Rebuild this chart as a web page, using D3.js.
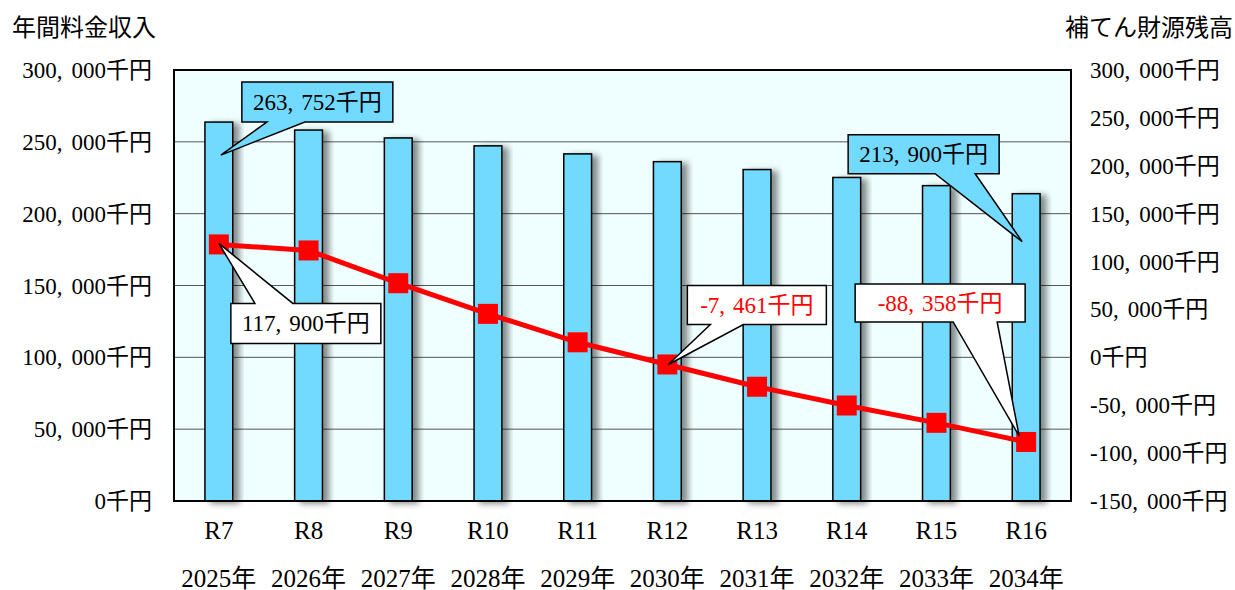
<!DOCTYPE html>
<html>
<head>
<meta charset="utf-8">
<script src="https://cdn.jsdelivr.net/npm/d3@7"></script>
<style>
  body { margin: 0; background: #fff; }
  svg { display: block; }
  text { font-family: "Liberation Serif", "Noto Sans CJK JP", serif; fill: #000; }
</style>
</head>
<body>
<svg id="chart"></svg>
<script>
// data
const reiwa = ["R7", "R8", "R9", "R10", "R11", "R12", "R13", "R14", "R15", "R16"];
const years = ["2025年", "2026年", "2027年", "2028年", "2029年", "2030年", "2031年", "2032年", "2033年", "2034年"];
const revenue = [263752, 258200, 252700, 247200, 241600, 236200, 230700, 225200, 219500, 213900];
const reserve = [117900, 111600, 77400, 45400, 15700, -7461, -30700, -50300, -68400, -88358];
const leftTicks = [0, 50000, 100000, 150000, 200000, 250000, 300000];
const rightTicks = [-150000, -100000, -50000, 0, 50000, 100000, 150000, 200000, 250000, 300000];
const leftTitle = "年間料金収入";
const rightTitle = "補てん財源残高";

// callouts: which series / index, box placement relative to the point
const callouts = [
  { series: "bar", i: 0, bx: 23, by: -40, w: 151, h: 40, side: "bottom", a: 25, b: 63, tx: 2, ty: 33, color: "#000", fill: "#73daff" },
  { series: "bar", i: 9, bx: -178, by: -59, w: 151, h: 39, side: "bottom", a: 87, b: 127, tx: -4, ty: 48, color: "#000", fill: "#73daff" },
  { series: "line", i: 0, bx: 12, by: 59, w: 150, h: 40, side: "top", a: 24, b: 62, tx: 0, ty: -1, color: "#000", fill: "#fff" },
  { series: "line", i: 5, bx: 20, by: -79, w: 139, h: 39, side: "bottom", a: 23, b: 56, tx: 1, ty: 0, color: "#ff0000", fill: "#fff" },
  { series: "line", i: 9, bx: -171, by: -158, w: 170, h: 38, side: "bottom", a: 98, b: 142, tx: -7, ty: -6, color: "#ff0000", fill: "#fff" }
];

const W = 1235, H = 590;
const margin = { top: 70, right: 164, bottom: 89, left: 174 };
const width = W - margin.left - margin.right;
const height = H - margin.top - margin.bottom;

const svg = d3.select("#chart").attr("width", W).attr("height", H);

const fmt = d3.formatLocale({ decimal: ".", thousands: ",", grouping: [3], currency: ["", ""], minus: "-" }).format(",");
const label = v => fmt(v) + "千円";

// draw "300,000千円" with a gap after each comma, like the original font
function numText(sel, s, gap) {
  const parts = s.split(",");
  sel.text(null);
  parts.forEach((p, k) => {
    sel.append("tspan")
      .attr("dx", k ? gap : null)
      .text(p + (k < parts.length - 1 ? "," : ""));
  });
}

// shadow for bars
const defs = svg.append("defs");
const f = defs.append("filter").attr("id", "shadow")
  .attr("x", "-20%").attr("y", "-10%").attr("width", "160%").attr("height", "130%");
f.append("feDropShadow").attr("dx", 6).attr("dy", 2).attr("stdDeviation", 3)
  .attr("flood-color", "#000").attr("flood-opacity", 0.45);

// scales
const x = d3.scaleBand().domain(reiwa).range([margin.left, margin.left + width]).padding(0);
const yL = d3.scaleLinear().domain([0, 300000]).range([margin.top + height, margin.top]);
const yR = d3.scaleLinear().domain([-150000, 300000]).range([margin.top + height, margin.top]);
const cx = d => x(d) + x.bandwidth() / 2;
const barW = x.bandwidth() * 0.31;

// plot background
svg.append("rect")
  .attr("x", margin.left).attr("y", margin.top)
  .attr("width", width).attr("height", height)
  .attr("fill", "#effefe");

// grid lines
svg.append("g")
  .selectAll("line")
  .data(leftTicks.slice(1, -1))
  .join("line")
  .attr("x1", margin.left).attr("x2", margin.left + width)
  .attr("y1", d => yL(d)).attr("y2", d => yL(d))
  .attr("stroke", "#555").attr("stroke-width", 1);

// bars
svg.append("g")
  .selectAll("rect")
  .data(revenue)
  .join("rect")
  .attr("x", (d, i) => cx(reiwa[i]) - barW / 2)
  .attr("y", d => yL(d))
  .attr("width", barW)
  .attr("height", d => yL(0) - yL(d))
  .attr("fill", "#73daff")
  .attr("stroke", "#000")
  .attr("stroke-width", 1.5)
  .attr("filter", "url(#shadow)");

// plot border
svg.append("rect")
  .attr("x", margin.left).attr("y", margin.top)
  .attr("width", width).attr("height", height)
  .attr("fill", "none").attr("stroke", "#000").attr("stroke-width", 2);

// line
const line = d3.line()
  .x((d, i) => cx(reiwa[i]))
  .y(d => yR(d));
svg.append("path")
  .datum(reserve)
  .attr("fill", "none")
  .attr("stroke", "#ff0000")
  .attr("stroke-width", 5)
  .attr("stroke-linejoin", "round")
  .attr("d", line);

svg.append("g")
  .selectAll("rect")
  .data(reserve)
  .join("rect")
  .attr("x", (d, i) => cx(reiwa[i]) - 10)
  .attr("y", d => yR(d) - 10)
  .attr("width", 20).attr("height", 20)
  .attr("fill", "#ff0000");

// left axis labels
svg.append("g")
  .selectAll("text")
  .data(leftTicks)
  .join("text")
  .attr("x", 152)
  .attr("y", d => yL(d))
  .attr("text-anchor", "end")
  .attr("dominant-baseline", "central")
  .style("font-size", "23px")
  .each(function(d) { numText(d3.select(this), label(d), 9); });

// right axis labels
svg.append("g")
  .selectAll("text")
  .data(rightTicks)
  .join("text")
  .attr("x", 1090)
  .attr("y", d => yR(d))
  .attr("dominant-baseline", "central")
  .style("font-size", "23px")
  .each(function(d) { numText(d3.select(this), label(d), 9); });

// axis titles
svg.append("text")
  .attr("x", 12).attr("y", 28)
  .attr("dominant-baseline", "central")
  .style("font-size", "24px")
  .text(leftTitle);
svg.append("text")
  .attr("x", 1233).attr("y", 28)
  .attr("text-anchor", "end")
  .attr("dominant-baseline", "central")
  .style("font-size", "24px")
  .text(rightTitle);

// category labels
svg.append("g")
  .selectAll("text")
  .data(reiwa)
  .join("text")
  .attr("x", d => cx(d))
  .attr("y", 530)
  .attr("text-anchor", "middle")
  .attr("dominant-baseline", "central")
  .style("font-size", "25px")
  .text(d => d);
svg.append("g")
  .selectAll("text")
  .data(years)
  .join("text")
  .attr("x", (d, i) => cx(reiwa[i]))
  .attr("y", 578)
  .attr("text-anchor", "middle")
  .attr("dominant-baseline", "central")
  .style("font-size", "25px")
  .text(d => d);

// callouts
callouts.forEach(c => {
  const v = c.series === "bar" ? revenue[c.i] : reserve[c.i];
  const px = cx(reiwa[c.i]);
  const py = c.series === "bar" ? yL(v) : yR(v);
  const L = px + c.bx, T = py + c.by, R = L + c.w, B = T + c.h;
  const tx = px + c.tx, ty = py + c.ty;
  let p;
  if (c.side === "bottom") {
    p = `M${L},${T}H${R}V${B}H${L + c.b}L${tx},${ty}L${L + c.a},${B}H${L}Z`;
  } else {
    p = `M${L},${T}H${L + c.a}L${tx},${ty}L${L + c.b},${T}H${R}V${B}H${L}Z`;
  }
  svg.append("path")
    .attr("d", p)
    .attr("fill", c.fill)
    .attr("stroke", "#000")
    .attr("stroke-width", 1.5)
    .attr("stroke-linejoin", "miter");
  svg.append("text")
    .attr("x", L + c.w / 2)
    .attr("y", T + c.h / 2)
    .attr("text-anchor", "middle")
    .attr("dominant-baseline", "central")
    .style("font-size", "23px")
    .style("fill", c.color)
    .call(s => numText(s, label(v), 8));
});
</script>
</body>
</html>
